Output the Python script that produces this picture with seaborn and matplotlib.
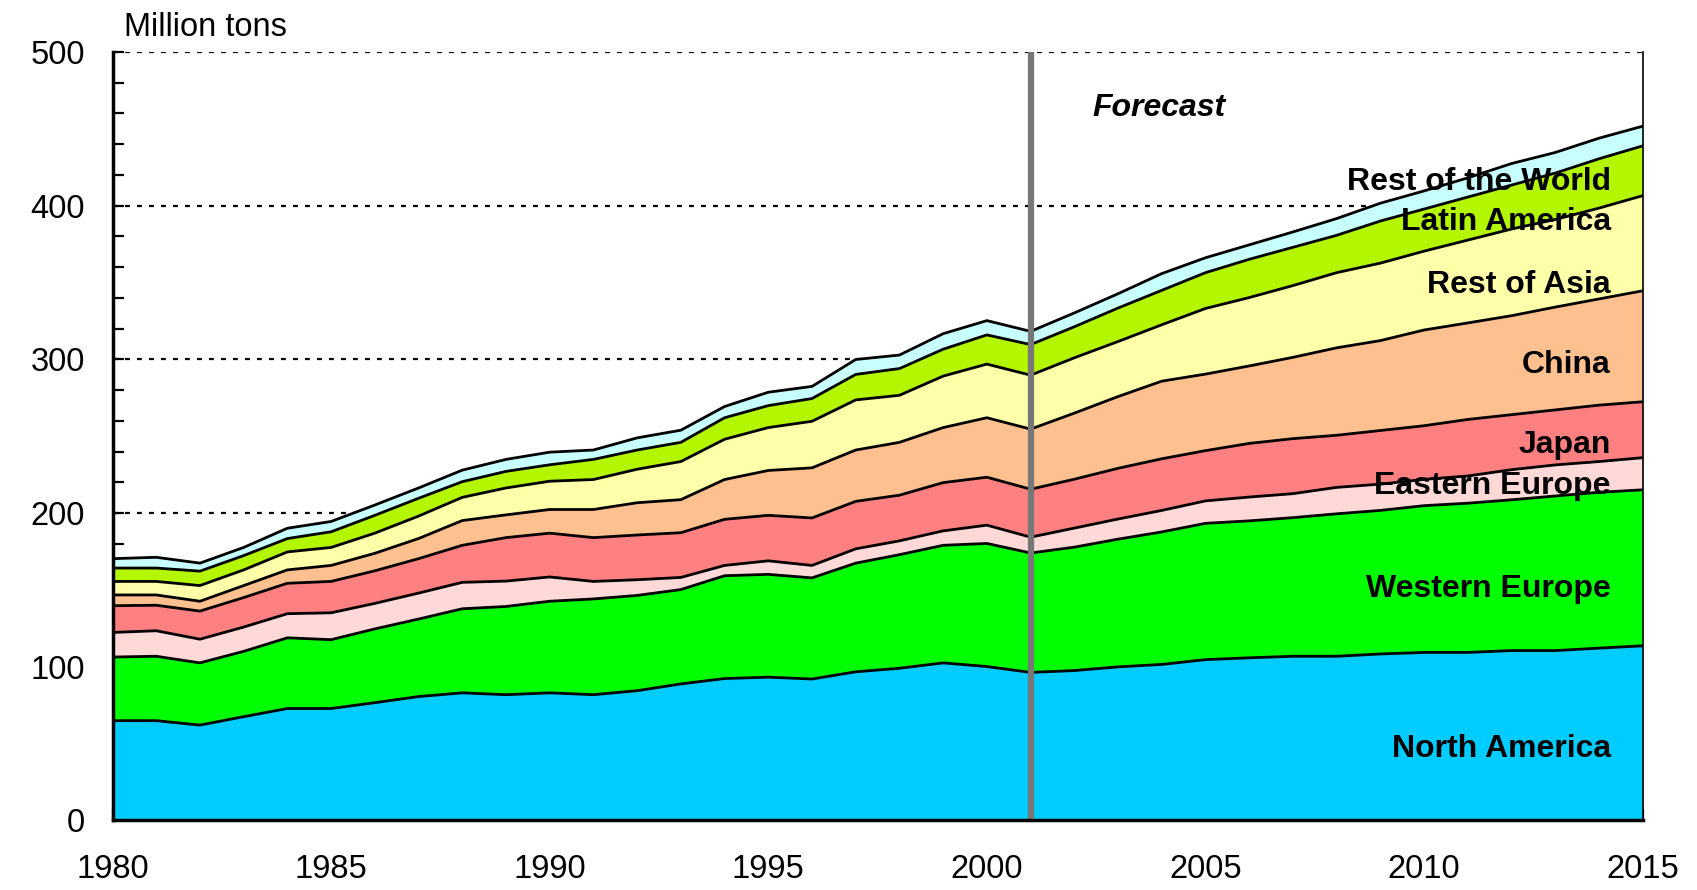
import numpy as np
import pandas as pd
import matplotlib
matplotlib.use("Agg")
import matplotlib.pyplot as plt
from matplotlib.ticker import MultipleLocator
import seaborn as sns

years = list(range(1980, 2016))

north_america = [64.9, 64.9, 62.0, 67.5, 72.8, 72.8, 76.6, 80.6, 83.0, 81.8, 83.0, 81.8, 84.4, 88.8, 92.3, 93.2,
                 92.0, 96.7, 99.0, 102.5, 100.1, 96.3, 97.5, 99.9, 101.5, 104.6, 105.8, 106.8, 106.8, 108.3, 109.3,
                 109.3, 110.5, 110.5, 112.1, 113.6]
western_europe = [41.4, 41.9, 40.5, 42.5, 46.0, 44.8, 48.0, 50.4, 54.7, 57.4, 59.6, 62.3, 62.0, 61.4, 66.9, 66.9,
                  65.8, 70.7, 73.9, 76.5, 80.1, 77.7, 80.3, 83.1, 86.2, 88.7, 89.1, 90.2, 92.7, 93.4, 95.5,
                  97.1, 98.1, 100.6, 101.4, 101.5]
eastern_europe = [16.0, 16.6, 15.4, 15.8, 15.7, 17.5, 16.6, 16.9, 17.2, 16.5, 15.8, 11.4, 10.2, 7.9, 6.7, 8.8,
                  8.1, 9.3, 9.0, 9.4, 11.9, 10.3, 12.4, 13.1, 14.0, 14.6, 15.5, 15.6, 17.2, 17.1, 17.1,
                  17.7, 19.6, 20.2, 20.0, 20.9]
japan = [17.4, 16.6, 18.3, 19.2, 19.8, 20.4, 21.2, 22.4, 24.1, 28.3, 28.5, 28.5, 29.1, 29.1, 30.0, 29.6,
         30.9, 30.9, 29.7, 31.4, 31.2, 31.2, 31.8, 33.0, 33.6, 32.7, 34.9, 35.8, 33.9, 34.9, 34.9,
         36.8, 35.8, 35.8, 36.7, 36.4]
china = [7.0, 6.7, 6.4, 7.8, 8.7, 10.4, 11.4, 13.1, 16.1, 14.8, 15.4, 18.3, 21.0, 21.5, 25.9, 29.2,
         32.6, 33.4, 34.4, 35.8, 38.7, 39.1, 43.0, 46.7, 50.5, 49.8, 50.4, 52.9, 56.9, 58.5, 62.3,
         62.8, 64.4, 66.9, 69.1, 72.2]
rest_of_asia = [8.8, 8.8, 10.2, 10.2, 11.7, 11.7, 13.1, 14.6, 15.1, 17.5, 18.4, 19.5, 21.8, 24.8, 26.2, 27.9,
                30.3, 32.6, 30.6, 33.5, 34.9, 35.1, 36.0, 35.8, 36.7, 42.7, 44.5, 46.7, 48.9, 50.4, 51.3,
                53.9, 56.4, 57.0, 59.1, 61.9]
latin_america = [8.7, 8.7, 9.4, 9.3, 8.7, 10.2, 11.6, 11.6, 10.2, 10.8, 10.7, 13.1, 12.5, 12.5, 14.0, 14.3,
                 14.8, 16.6, 17.4, 17.5, 19.0, 19.9, 20.2, 21.8, 22.4, 23.3, 24.9, 24.9, 24.3, 27.4, 27.4,
                 28.0, 28.6, 30.2, 32.1, 32.4]
rest_of_world = [6.1, 7.0, 5.2, 5.3, 6.7, 6.7, 6.7, 6.7, 7.5, 7.8, 8.2, 6.1, 7.9, 7.9, 7.3, 8.7,
                 7.9, 9.7, 8.8, 10.1, 9.3, 8.6, 9.0, 9.3, 10.9, 9.7, 9.4, 10.0, 10.9, 11.6, 11.8,
                 12.5, 14.0, 13.4, 13.4, 12.8]

series_names = ["North America", "Western Europe", "Eastern Europe", "Japan", "China",
                "Rest of Asia", "Latin America", "Rest of the World"]
series_values = [north_america, western_europe, eastern_europe, japan, china,
                 rest_of_asia, latin_america, rest_of_world]
colors = ["#00CCFF", "#00FF00", "#FFD8D8", "#FF8080", "#FFC090", "#FFFFAA", "#B4F500", "#C8FFFF"]
label_y = [46.5, 150.5, 217.5, 244.5, 296.5, 348.5, 389.5, 415.5]
forecast_year = 2001

sns.set_theme(style="white")
plt.rcParams["font.family"] = ["Liberation Sans", "DejaVu Sans"]

fig = plt.figure(figsize=(16.97, 8.90), dpi=100)
ax = fig.add_axes([0.0663, 0.0782, 0.9017, 0.8634])

df = pd.DataFrame({name: vals for name, vals in zip(series_names, series_values)}, index=years)
cum = df.cumsum(axis=1)

# grid lines behind
for g in [200, 300, 400, 500]:
    ax.axhline(g, color="black", lw=1.6, ls=(0, (2.2, 3.2)), zorder=0.5)

ax.stackplot(years, *[df[c].values for c in series_names], colors=colors, linewidth=0, zorder=1)

long = cum.reset_index().melt(id_vars="index", var_name="series", value_name="level")
long = long.rename(columns={"index": "year"})
sns.lineplot(data=long, x="year", y="level", units="series", estimator=None,
             color="black", lw=2.0, ax=ax, zorder=2, legend=False)

ax.axvline(forecast_year, color="#777777", lw=4.5, zorder=5)

ax.set_xlim(1980, 2015)
ax.set_ylim(0, 500)
ax.set_xlabel("")
ax.set_ylabel("")
ax.xaxis.set_major_locator(MultipleLocator(5))
ax.xaxis.set_minor_locator(MultipleLocator(1))
ax.yaxis.set_major_locator(MultipleLocator(100))
ax.yaxis.set_minor_locator(MultipleLocator(20))
ax.tick_params(axis="both", which="both", direction="in", length=8, width=1.6, colors="black",
               labelsize=23.5, left=True, bottom=True)
ax.tick_params(axis="y", which="major", pad=20)
ax.tick_params(axis="x", which="major", pad=24)

for s in ["left", "bottom"]:
    ax.spines[s].set_visible(True)
    ax.spines[s].set_color("black")
    ax.spines[s].set_linewidth(2.5)
ax.spines["right"].set_visible(True)
ax.spines["right"].set_color("black")
ax.spines["right"].set_linewidth(1.2)
ax.spines["top"].set_visible(False)
for s in ax.spines.values():
    s.set_zorder(6)

for name, y in zip(series_names, label_y):
    ax.text(2014.27, y, name, ha="right", va="center", fontsize=23, fontweight="bold",
            color="black", zorder=7)

ax.text(2003.93, 463.5, "Forecast", ha="center", va="center", fontsize=23, fontweight="bold",
        fontstyle="italic", color="black", zorder=7)

fig.text(124 / 1697, 1 - 27 / 890, "Million tons", ha="left", va="center", fontsize=23.5, color="black")

fig.savefig("out.png", dpi=100, facecolor="white")
